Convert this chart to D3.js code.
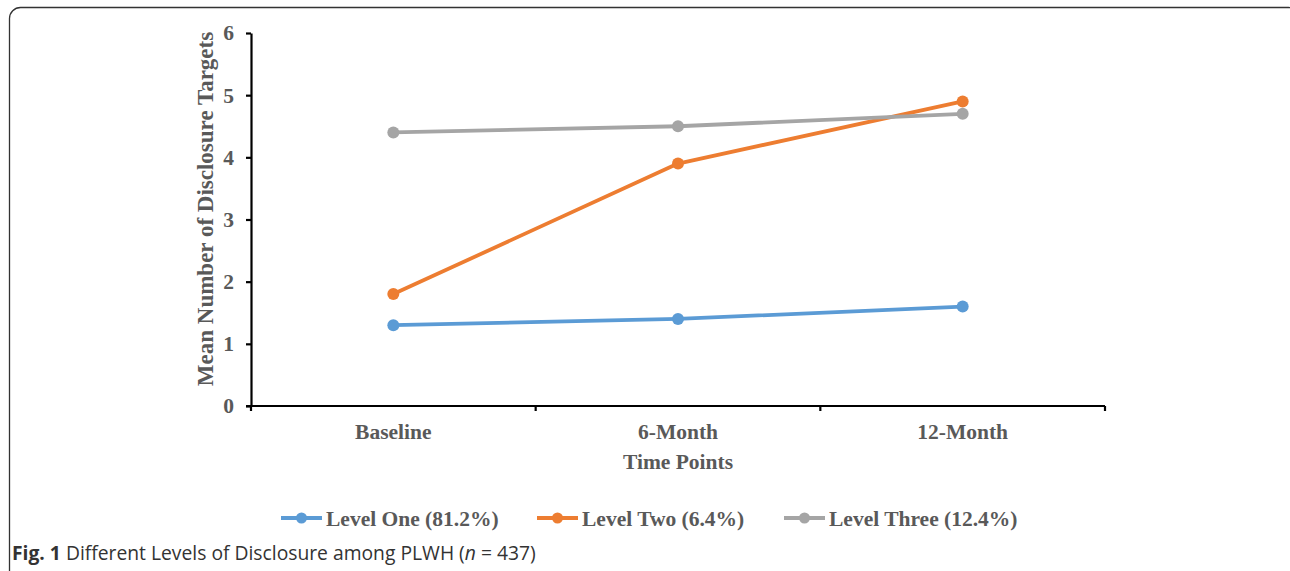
<!DOCTYPE html>
<html>
<head>
<meta charset="utf-8">
<script src="https://cdnjs.cloudflare.com/ajax/libs/d3/7.8.5/d3.min.js"></script>
<style>
  body { margin: 0; background: #fff; }
  svg { display: block; }
</style>
</head>
<body>
<div id="chart"></div>
<script>
// Data
var timePoints = ["Baseline", "6-Month", "12-Month"];
var levelOne = [1.3, 1.4, 1.6];
var levelTwo = [1.8, 3.9, 4.9];
var levelThree = [4.4, 4.5, 4.7];
var seriesNames = ["Level One (81.2%)", "Level Two (6.4%)", "Level Three (12.4%)"];
var seriesColors = ["#5B9BD5", "#ED7D31", "#A5A5A5"];
var yTicks = [0, 1, 2, 3, 4, 5, 6];

var width = 1290;
var height = 571;
var margin = { left: 251, right: 185, top: 33, bottom: 165 };

var labelFont = "'Liberation Serif', 'Times New Roman', serif";
var labelColor = "#595959";
var labelSize = "21.5px";

var svg = d3.select("#chart").append("svg")
    .attr("width", width)
    .attr("height", height);

// Frame around the figure (open at the bottom, runs past the window)
svg.append("rect")
    .attr("x", 9.5)
    .attr("y", 7.5)
    .attr("width", 1290)
    .attr("height", 700)
    .attr("rx", 11)
    .style("fill", "none")
    .style("stroke", "#333")
    .style("stroke-width", 1.3);

var x = d3.scaleBand()
    .domain(timePoints)
    .range([margin.left, width - margin.right]);

var y = d3.scaleLinear()
    .domain([0, 6])
    .range([height - margin.bottom, margin.top]);

// Y axis
var yAxis = svg.append("g")
    .attr("transform", "translate(" + margin.left + ",0)")
    .call(d3.axisLeft(y).tickValues(yTicks).tickFormat(d3.format("d"))
        .tickSize(5).tickSizeOuter(0).tickPadding(12));

yAxis.select(".domain").style("stroke", "#000").style("stroke-width", 2.2);
yAxis.selectAll(".tick line").style("stroke", "#000").style("stroke-width", 2.2);
yAxis.selectAll(".tick text")
    .style("font-family", labelFont)
    .style("font-weight", "bold")
    .style("font-size", labelSize)
    .style("fill", labelColor);

// X axis, ticks at the band boundaries
var xAxis = svg.append("g")
    .attr("transform", "translate(0," + y(0) + ")");

xAxis.append("line")
    .attr("x1", margin.left - 5)
    .attr("x2", width - margin.right)
    .style("stroke", "#000")
    .style("stroke-width", 2.2);

var boundaries = timePoints.map(function(d) { return x(d); })
    .concat([x(timePoints[timePoints.length - 1]) + x.bandwidth()]);

xAxis.selectAll(".xtick")
    .data(boundaries)
    .enter().append("line")
    .attr("class", "xtick")
    .attr("x1", function(d) { return d; })
    .attr("x2", function(d) { return d; })
    .attr("y1", 0)
    .attr("y2", 5)
    .style("stroke", "#000")
    .style("stroke-width", 2.2);

xAxis.selectAll(".xlabel")
    .data(timePoints)
    .enter().append("text")
    .attr("class", "xlabel")
    .attr("x", function(d) { return x(d) + x.bandwidth() / 2; })
    .attr("y", 33)
    .attr("text-anchor", "middle")
    .style("font-family", labelFont)
    .style("font-weight", "bold")
    .style("font-size", labelSize)
    .style("fill", labelColor)
    .text(function(d) { return d; });

// Axis titles
svg.append("text")
    .attr("x", (margin.left + width - margin.right) / 2)
    .attr("y", 469)
    .attr("text-anchor", "middle")
    .style("font-family", labelFont)
    .style("font-weight", "bold")
    .style("font-size", labelSize)
    .style("fill", labelColor)
    .text("Time Points");

svg.append("text")
    .attr("transform", "translate(213,209) rotate(-90)")
    .attr("text-anchor", "middle")
    .style("font-family", labelFont)
    .style("font-weight", "bold")
    .style("font-size", "23px")
    .style("fill", labelColor)
    .text("Mean Number of Disclosure Targets");

// Series lines
var series = [levelOne, levelTwo, levelThree];

var line = d3.line()
    .x(function(d, i) { return x(timePoints[i]) + x.bandwidth() / 2; })
    .y(function(d) { return y(d); });

series.forEach(function(values, s) {
    svg.append("path")
        .datum(values)
        .attr("d", line)
        .style("fill", "none")
        .style("stroke", seriesColors[s])
        .style("stroke-width", 3.8)
        .style("stroke-linejoin", "round");

    svg.selectAll(".dot" + s)
        .data(values)
        .enter().append("circle")
        .attr("class", "dot" + s)
        .attr("cx", function(d, i) { return x(timePoints[i]) + x.bandwidth() / 2; })
        .attr("cy", function(d) { return y(d); })
        .attr("r", 6)
        .style("fill", seriesColors[s]);
});

// Legend
var legendX = [281, 537, 784];
var legend = svg.selectAll(".legend")
    .data(seriesNames)
    .enter().append("g")
    .attr("class", "legend")
    .attr("transform", function(d, i) { return "translate(" + legendX[i] + ",518)"; });

legend.append("line")
    .attr("x1", 0)
    .attr("x2", 41)
    .style("stroke", function(d, i) { return seriesColors[i]; })
    .style("stroke-width", 3.8);

legend.append("circle")
    .attr("cx", 20.5)
    .attr("r", 5.5)
    .style("fill", function(d, i) { return seriesColors[i]; });

legend.append("text")
    .attr("x", 45)
    .attr("dy", "0.35em")
    .style("font-family", labelFont)
    .style("font-weight", "bold")
    .style("font-size", labelSize)
    .style("fill", labelColor)
    .text(function(d) { return d; });

// Caption
var caption = svg.append("text")
    .attr("x", 12)
    .attr("y", 560)
    .style("font-family", "'Open Sans', 'Noto Sans', sans-serif")
    .style("font-size", "19.3px")
    .style("fill", "#333");

caption.append("tspan").style("font-weight", "bold").text("Fig. 1");
caption.append("tspan").text(" Different Levels of Disclosure among PLWH (");
caption.append("tspan").style("font-style", "italic").text("n");
caption.append("tspan").text(" = 437)");
</script>
</body>
</html>
